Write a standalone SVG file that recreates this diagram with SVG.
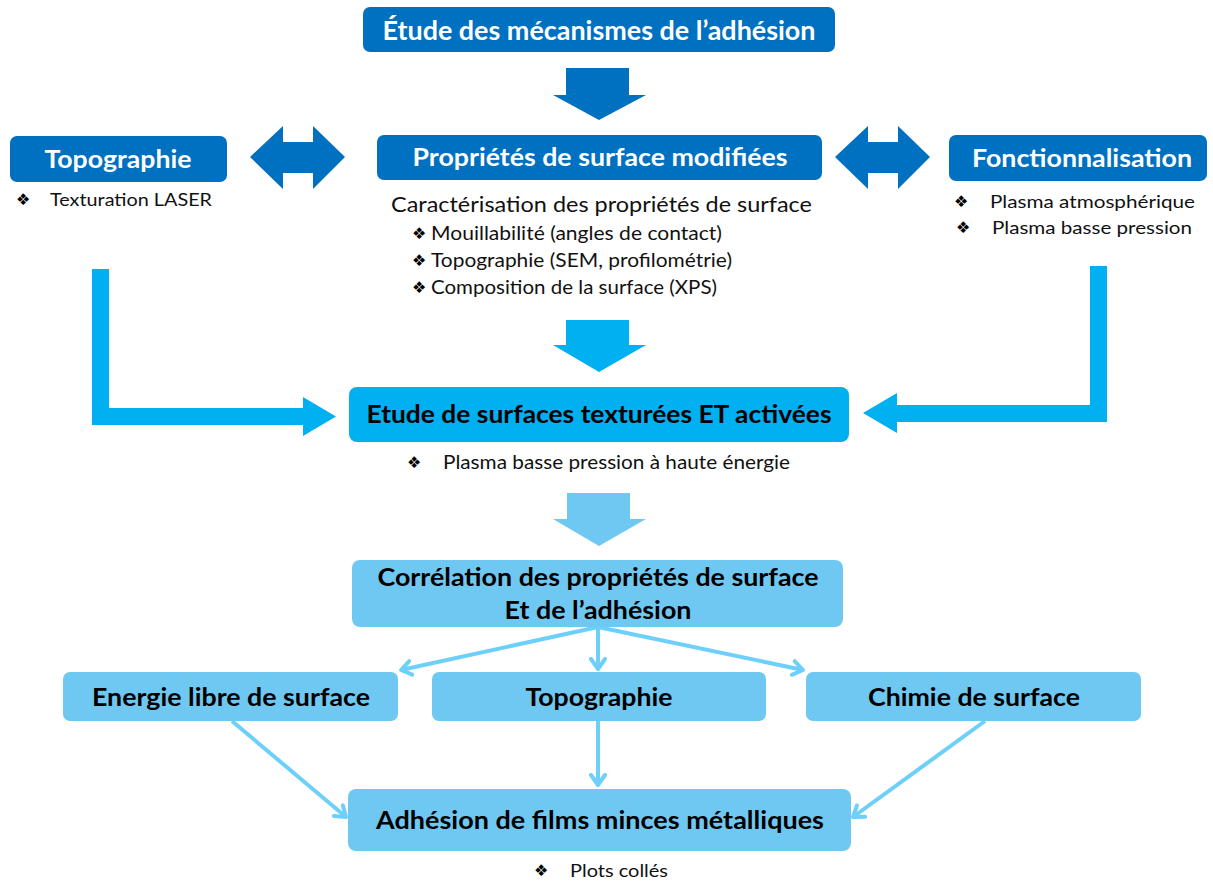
<svg xmlns="http://www.w3.org/2000/svg" width="1213" height="884" viewBox="0 0 1213 884">
<style>
.dk{fill:#0070C0}
.md{fill:#00B0F0}
.lt{fill:#6FC8F2}
.wt{font-family:Lato,"Open Sans","Liberation Sans",sans-serif;font-weight:bold;fill:#FFFFFF;text-anchor:middle}
.bt{font-family:Lato,"Open Sans","Liberation Sans",sans-serif;font-weight:bold;fill:#000000;text-anchor:middle}
.tx{font-family:Lato,"Open Sans","Liberation Sans",sans-serif;fill:#111111}
.bl{font-family:"DejaVu Sans",sans-serif;fill:#000000}
.cn{stroke:#6DD0FA;stroke-width:4;fill:none;marker-end:url(#ah)}
</style>
<defs>
<marker id="ah" markerUnits="userSpaceOnUse" viewBox="-12 -10 15 20" markerWidth="15" markerHeight="20" refX="0" refY="0" orient="auto">
<path d="M-10,-7 L0,0 L-10,7" fill="none" stroke="#6DD0FA" stroke-width="4" stroke-linecap="round" stroke-linejoin="round"/>
</marker>
</defs>
<rect width="1213" height="884" fill="#FFFFFF"/>

<g id="connectors">
<polygon class="dk" points="566,68 629,68 629,95 646,95 599,120 553,95 566,95"/>
<polygon class="dk" points="250,157 283,126 283,142 313,142 313,126 345,157 313,189 313,173 283,173 283,189"/>
<polygon class="dk" points="835,157 868,126 868,142 898,142 898,126 930,157 898,189 898,173 868,173 868,189"/>
<polygon class="md" points="566,320 629,320 629,345 646,345 599,372 553,345 566,345"/>
<polygon class="md" points="92,269 109,269 109,408 303,408 303,397 336,416.5 303,436 303,425 92,425"/>
<polygon class="md" points="1090,266 1107,266 1107,422 897,422 897,433 863,413 897,393 897,405 1090,405"/>
<polygon class="lt" points="567,493 630,493 630,519 646,519 599,546 553,519 567,519"/>
<line class="cn" x1="598" y1="627" x2="401" y2="670"/>
<line class="cn" x1="598" y1="627" x2="598" y2="669"/>
<line class="cn" x1="598" y1="627" x2="803" y2="670"/>
<line class="cn" x1="232" y1="721" x2="346" y2="817"/>
<line class="cn" x1="598" y1="721" x2="598" y2="785"/>
<line class="cn" x1="985" y1="721" x2="853" y2="817"/>
</g>

<g id="n-etude-mecanismes">
<rect class="dk" x="363" y="7" width="472" height="45" rx="7"/>
<text class="wt" x="599" y="40" font-size="26" textLength="433" lengthAdjust="spacingAndGlyphs">Étude des mécanismes de l’adhésion</text>
</g>

<g id="n-topographie">
<rect class="dk" x="10" y="136" width="217" height="46" rx="7"/>
<text class="wt" x="118" y="168" font-size="24" textLength="147" lengthAdjust="spacingAndGlyphs">Topographie</text>
<text class="bl" x="16" y="205" font-size="16">❖</text>
<text class="tx" x="50" y="206" font-size="18" textLength="162" lengthAdjust="spacingAndGlyphs">Texturation LASER</text>
</g>

<g id="n-proprietes">
<rect class="dk" x="377" y="135" width="445" height="45" rx="7"/>
<text class="wt" x="600" y="166" font-size="24" textLength="375" lengthAdjust="spacingAndGlyphs">Propriétés de surface modifiées</text>
<text class="tx" x="391" y="212" font-size="22" textLength="421" lengthAdjust="spacingAndGlyphs">Caractérisation des propriétés de surface</text>
<text class="bl" x="412" y="239" font-size="16">❖</text>
<text class="tx" x="431" y="240" font-size="19" textLength="291" lengthAdjust="spacingAndGlyphs">Mouillabilité (angles de contact)</text>
<text class="bl" x="412" y="266" font-size="16">❖</text>
<text class="tx" x="431" y="267" font-size="19" textLength="301" lengthAdjust="spacingAndGlyphs">Topographie (SEM, profilométrie)</text>
<text class="bl" x="412" y="293" font-size="16">❖</text>
<text class="tx" x="431" y="294" font-size="19" textLength="286" lengthAdjust="spacingAndGlyphs">Composition de la surface (XPS)</text>
</g>

<g id="n-fonctionnalisation">
<rect class="dk" x="949" y="135" width="258" height="46" rx="7"/>
<text class="wt" x="1082" y="167" font-size="24" textLength="220" lengthAdjust="spacingAndGlyphs">Fonctionnalisation</text>
<text class="bl" x="954" y="207" font-size="16">❖</text>
<text class="tx" x="990" y="208" font-size="18" textLength="205" lengthAdjust="spacingAndGlyphs">Plasma atmosphérique</text>
<text class="bl" x="956" y="233" font-size="16">❖</text>
<text class="tx" x="992" y="234" font-size="18" textLength="200" lengthAdjust="spacingAndGlyphs">Plasma basse pression</text>
</g>

<g id="n-etude-surfaces">
<rect class="md" x="349" y="387" width="500" height="55" rx="8"/>
<text class="bt" x="599" y="423" font-size="24" textLength="465" lengthAdjust="spacingAndGlyphs">Etude de surfaces texturées ET activées</text>
<text class="bl" x="407" y="468" font-size="16">❖</text>
<text class="tx" x="443" y="469" font-size="19" textLength="347" lengthAdjust="spacingAndGlyphs">Plasma basse pression à haute énergie</text>
</g>

<g id="n-correlation">
<rect class="lt" x="352" y="560" width="491" height="67" rx="8"/>
<text class="bt" x="598" y="586" font-size="25" textLength="441" lengthAdjust="spacingAndGlyphs">Corrélation des propriétés de surface</text>
<text class="bt" x="598" y="619" font-size="25" textLength="187" lengthAdjust="spacingAndGlyphs">Et de l’adhésion</text>
</g>

<g id="n-energie">
<rect class="lt" x="63" y="672" width="335" height="49" rx="7"/>
<text class="bt" x="231" y="706" font-size="25" textLength="278" lengthAdjust="spacingAndGlyphs">Energie libre de surface</text>
</g>

<g id="n-topo2">
<rect class="lt" x="432" y="672" width="334" height="49" rx="7"/>
<text class="bt" x="599" y="706" font-size="25" textLength="147" lengthAdjust="spacingAndGlyphs">Topographie</text>
</g>

<g id="n-chimie">
<rect class="lt" x="806" y="672" width="335" height="49" rx="7"/>
<text class="bt" x="974" y="706" font-size="25" textLength="212" lengthAdjust="spacingAndGlyphs">Chimie de surface</text>
</g>

<g id="n-adhesion">
<rect class="lt" x="348" y="789" width="503" height="62" rx="8"/>
<text class="bt" x="600" y="829" font-size="25" textLength="448" lengthAdjust="spacingAndGlyphs">Adhésion de films minces métalliques</text>
<text class="bl" x="534" y="876" font-size="16">❖</text>
<text class="tx" x="570" y="877" font-size="18" textLength="98" lengthAdjust="spacingAndGlyphs">Plots collés</text>
</g>
</svg>
